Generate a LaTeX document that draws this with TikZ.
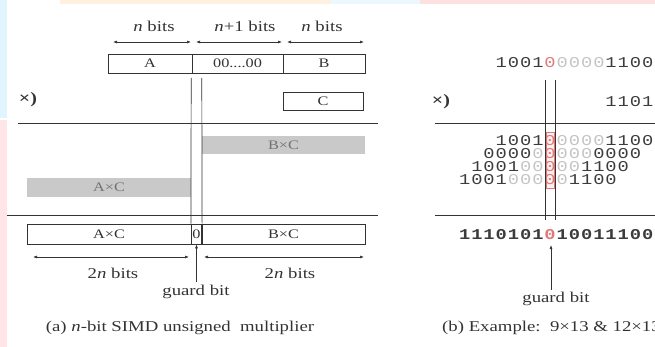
\documentclass[tikz,border=0pt]{standalone}
\usepackage{fontspec}
\setmainfont{Liberation Serif}
\newfontfamily\monof{Liberation Mono}
\usetikzlibrary{arrows.meta}
\definecolor{cK}{HTML}{3C3C3C}
\definecolor{cL}{HTML}{C4C4C4}
\definecolor{cR}{HTML}{E07A7A}
\definecolor{barfill}{HTML}{C9C9C9}
\definecolor{ink}{HTML}{333333}
\def\sx#1{\scalebox{1.25}[1]{#1}}
\def\chbox#1#2{\makebox[12.2pt]{\textcolor{#1}{\scalebox{1.25}[1]{#2}}}}
\def\bitrow#1{\bitrowi#1\relax\relax}
\def\bitrowi#1#2{\ifx\relax#1\else\chbox{c#1}{#2}\expandafter\bitrowi\fi}
\tikzset{
  reg/.style={draw=ink, line width=0.7pt, minimum height=19pt, inner sep=0pt, font=\fontsize{13}{15}\selectfont, text=ink},
  bar/.style={fill=barfill, draw=none, minimum height=18pt, inner sep=0pt, font=\fontsize{13}{15}\selectfont, text=black!55},
  lbl/.style={font=\fontsize{15}{17}\selectfont, text=ink, inner sep=0pt},
  dim/.style={{Latex[length=4pt,width=3pt]}-{Latex[length=4pt,width=3pt]}, line width=0.6pt, draw=ink},
  up/.style={-{Latex[length=4pt,width=3pt]}, line width=0.6pt, draw=ink},
  rulel/.style={line width=0.8pt, draw=ink},
  bits/.style={font=\fontsize{15}{17}\selectfont\monof, inner sep=0pt, anchor=west},
}
\begin{document}
\begin{tikzpicture}[x=1pt,y=-1pt]
\useasboundingbox (0,0) rectangle (655,347);
% faint background patches
\fill[cyan!12] (0,0) rectangle (7,118);
\fill[red!10] (0,120) rectangle (7,347);
\fill[orange!12] (60,0) rectangle (330,4);
\fill[cyan!8] (330,0) rectangle (420,4);
\fill[red!12] (420,0) rectangle (655,4);

% ---------- (a) ----------
\node[lbl] (l1) at (154,26) {\sx{\textit{n} bits}};
\node[lbl] (l2) at (245,26) {\sx{\textit{n}+1 bits}};
\node[lbl] (l3) at (322,26) {\sx{\textit{n} bits}};
\coordinate (d1a) at (113,42); \coordinate (d1b) at (191,42);
\coordinate (d2a) at (196,42); \coordinate (d2b) at (282,42);
\coordinate (d3a) at (287,42); \coordinate (d3b) at (364,42);
\draw[dim] (d1a) -- (d1b);
\draw[dim] (d2a) -- (d2b);
\draw[dim] (d3a) -- (d3b);

\node[reg, minimum width=84pt] (A) at (150,63.5) {\sx{A}};
\node[reg, minimum width=91pt] (Z) at (237.5,63.5) {\sx{00....00}};
\node[reg, minimum width=82pt] (B) at (324,63.5) {\sx{B}};
\node[reg, minimum width=80pt, minimum height=18pt] (C) at (323,101) {\sx{C}};
\node[lbl, font=\fontsize{16}{18}\selectfont\bfseries] (mulA) at (28,100) {\sx{×)}};

\draw[rulel] (18,123) -- (378,123);
\node[bar, minimum width=163pt] (BC) at (283.5,145) {\sx{B×C}};
\node[bar, minimum width=164pt, minimum height=19pt] (AC) at (109,187.5) {\sx{A×C}};
\draw[rulel] (7,215) -- (378,215);

\node[reg, minimum width=164pt, minimum height=20pt] (rAC) at (109,234) {\sx{A×C}};
\node[reg, minimum width=10.5pt, minimum height=20pt] (rG) at (196.5,234) {\sx{0}};
\node[reg, minimum width=163pt, minimum height=20pt] (rBC) at (283.5,234) {\sx{B×C}};

\draw[line width=0.7pt, ink] (191.2,78) -- (rG.north west);
\draw[line width=0.7pt, ink] (201.8,78) -- (rG.north east);

\coordinate (e1a) at (33,257); \coordinate (e1b) at (189,257);
\coordinate (e2a) at (204,257); \coordinate (e2b) at (364,257);
\draw[dim] (e1a) -- (e1b);
\draw[dim] (e2a) -- (e2b);
\node[lbl] (w1) at (113,273) {\sx{2\textit{n} bits}};
\node[lbl] (w2) at (290,273) {\sx{2\textit{n} bits}};
\node[lbl] (gA) at (196,292) {\sx{guard bit}};
\coordinate (gAt) at (196.5,282);
\draw[up] (gAt) -- (rG.south);
\node[lbl] (capA) at (180,328) {\sx{(a) \textit{n}-bit SIMD unsigned\ \ multiplier}};

% ---------- (b) ----------
\node[bits] (top) at (495,63) {\bitrow{K1K0K0K1R0L0L0L0L0K1K1K0K0}};
\node[bits] (mul) at (604.8,102) {\bitrow{K1K1K0K1}};
\node[lbl, font=\fontsize{16}{18}\selectfont\bfseries] (mulB) at (441,102) {\sx{×)}};
\draw[rulel] (435,123) -- (655,123);
\fill[red!6] (546.5,132) rectangle (554.5,188);
\draw[cR, line width=0.6pt] (546.5,132) rectangle (554.5,188);
\node[bits] (p1) at (495,141) {\bitrow{K1K0K0K1R0L0L0L0L0K1K1K0K0}};
\node[bits] (p2) at (482.8,153.5) {\bitrow{K0K0K0K0L0R0L0L0L0K0K0K0K0}};
\node[bits] (p3) at (470.6,167) {\bitrow{K1K0K0K1L0L0R0L0L0K1K1K0K0}};
\node[bits] (p4) at (458.4,180) {\bitrow{K1K0K0K1L0L0L0R0L0K1K1K0K0}};
\draw[rulel] (435,215) -- (655,215);
\draw[line width=0.7pt, ink] (545,80) -- (545,220);
\draw[line width=0.7pt, ink] (555.5,80) -- (555.5,220);
\node[bits, font=\fontsize{15}{17}\selectfont\monof\bfseries] (res) at (458.4,235) {\bitrow{K1K1K1K0K1K0K1R0K1K0K0K1K1K1K0K0}};
\node[lbl] (gB) at (556,299) {\sx{guard bit}};
\coordinate (gBt) at (551,290);
\coordinate (gBh) at (551,245);
\draw[up] (gBt) -- (gBh);
\node[lbl, anchor=west] (capB) at (442,328) {\sx{(b) Example:\ \ 9×13 \& 12×13}};
\end{tikzpicture}
\end{document}
